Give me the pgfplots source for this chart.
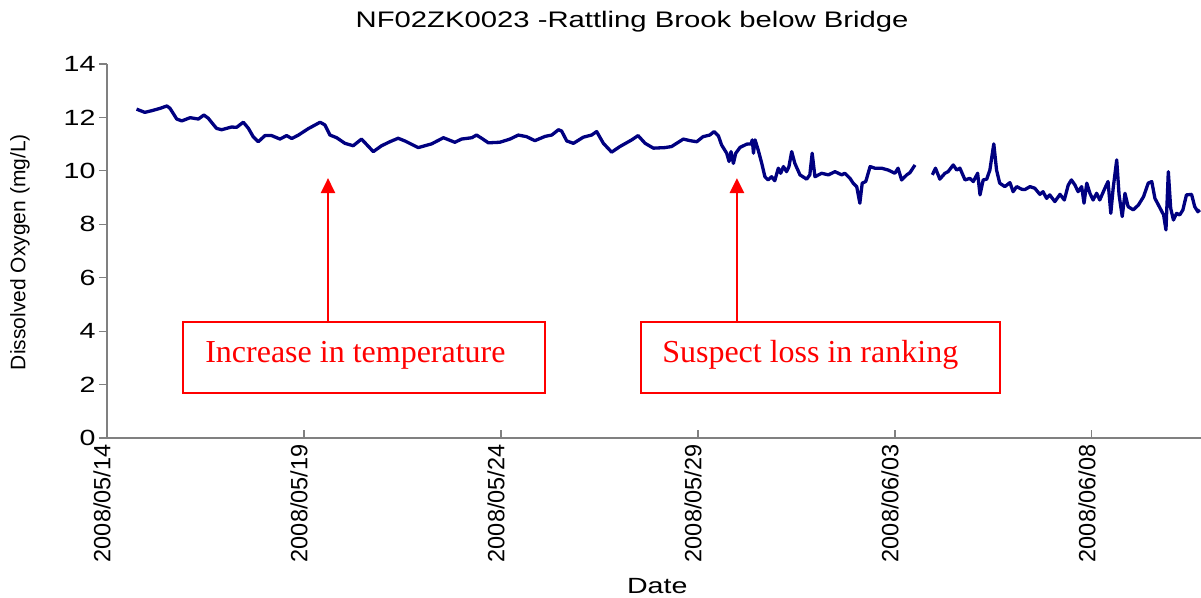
\documentclass[border=0pt]{standalone}
\usepackage{fontspec}
\setmainfont{Liberation Sans}
\newfontfamily\annfont{Liberation Serif}
\usepackage{graphicx}
\usepackage{pgfplots}
\pgfplotsset{compat=1.18}
\usetikzlibrary{arrows.meta}
\definecolor{doline}{RGB}{0,0,128}
\newcommand\hx[1]{\scalebox{1.3}[1]{#1}}
\newcommand\lblfont{\fontsize{22bp}{26bp}\selectfont}

\begin{document}
\begin{tikzpicture}
\path[use as bounding box] (-107bp,-160bp) rectangle (1094bp,438bp);
\begin{axis}[
    scale only axis,
    width=1094bp, height=374bp,
    xmin=0, xmax=27.77,
    ymin=0, ymax=14,
    axis x line=bottom, axis y line=left,
    axis line style={-, gray, line width=1.2bp},
    tick align=inside,
    major tick length=8bp,
    tick style={gray, line width=1.2bp},
    y tick style={xshift=-8bp},
    xtick={0,5,10,15,20,25},
    xticklabels={2008/05/14,2008/05/19,2008/05/24,2008/05/29,2008/06/03,2008/06/08},
    ytick={0,2,4,6,8,10,12,14},
    yticklabels={\hx{0},\hx{2},\hx{4},\hx{6},\hx{8},\hx{10},\hx{12},\hx{14}},
    x tick label style={rotate=90, anchor=east, font=\fontsize{23.5bp}{27bp}\selectfont, xshift=-3bp, yshift=5bp},
    y tick label style={font=\lblfont, xshift=-8bp},
    xlabel={\hx{Date}},
    xlabel style={at={(axis description cs:0.503,-0.3957)}, anchor=center, font=\lblfont},
    ylabel={Dissolved Oxygen (mg/L)},
    ylabel style={at={(axis description cs:-0.0795,0.497)}, anchor=center, font=\fontsize{21bp}{25bp}\selectfont},
    title={\hx{NF02ZK0023 -Rattling Brook below Bridge}},
    title style={at={(axis description cs:0.48,1.098)}, anchor=center, font=\fontsize{22.5bp}{26bp}\selectfont},
    unbounded coords=jump,
    clip=false,
]

% dissolved oxygen record (days after 2008/05/14, mg/L)
\addplot[doline, line width=3.3bp, line join=round] coordinates {
(0.75,12.31) (0.96,12.19) (1.13,12.25) (1.35,12.34) (1.52,12.43) (1.60,12.34)
(1.77,11.94) (1.90,11.87) (2.11,11.99) (2.32,11.94) (2.46,12.09) (2.57,11.97)
(2.78,11.59) (2.91,11.54) (3.16,11.64) (3.29,11.63) (3.46,11.82) (3.59,11.59)
(3.71,11.28) (3.84,11.09) (4.01,11.32) (4.18,11.32) (4.39,11.19) (4.56,11.32)
(4.69,11.21) (4.86,11.34) (5.11,11.58) (5.41,11.82) (5.53,11.72) (5.66,11.34)
(5.83,11.24) (6.04,11.03) (6.25,10.94) (6.46,11.19) (6.76,10.72) (6.97,10.94)
(7.18,11.09) (7.39,11.22) (7.56,11.12) (7.90,10.87) (8.24,11.01) (8.54,11.24)
(8.83,11.07) (9.00,11.19) (9.26,11.24) (9.38,11.34) (9.51,11.22) (9.68,11.05)
(9.97,11.07) (10.23,11.19) (10.44,11.34) (10.65,11.28) (10.86,11.13) (11.12,11.29)
(11.29,11.34) (11.46,11.54) (11.54,11.49) (11.67,11.12) (11.84,11.03) (12.09,11.26)
(12.30,11.34) (12.43,11.47) (12.60,11.03) (12.81,10.70) (13.02,10.91) (13.32,11.16)
(13.48,11.32) (13.66,11.03) (13.87,10.85) (14.16,10.87) (14.33,10.91) (14.63,11.19)
(14.80,11.13) (14.97,11.09) (15.13,11.28) (15.30,11.34) (15.41,11.47) (15.52,11.31)
(15.60,10.97) (15.73,10.66) (15.79,10.35) (15.84,10.72) (15.90,10.28) (15.96,10.66)
(16.07,10.88) (16.24,11.00) (16.35,11.01) (16.38,11.16) (16.41,10.66) (16.45,11.16)
(16.53,10.78) (16.62,10.28) (16.70,9.78) (16.78,9.66) (16.87,9.78) (16.95,9.63)
(17.04,10.10) (17.10,9.91) (17.17,10.16) (17.25,9.97) (17.31,10.16) (17.38,10.72)
(17.46,10.28) (17.59,9.85) (17.76,9.69) (17.84,9.85) (17.90,10.66) (17.97,9.78)
(18.14,9.91) (18.31,9.85) (18.48,9.97) (18.65,9.85) (18.73,9.91) (18.86,9.72)
(18.94,9.54) (19.03,9.41) (19.11,8.79) (19.17,9.54) (19.26,9.60) (19.37,10.16)
(19.49,10.10) (19.66,10.10) (19.83,10.03) (20.00,9.91) (20.08,10.10) (20.17,9.66)
(20.30,9.85) (20.38,9.93) (20.51,10.22)
(20.73,nan)
(20.95,9.85) (21.03,10.10) (21.14,9.69) (21.27,9.91) (21.35,9.97) (21.48,10.22)
(21.57,10.03) (21.65,10.10) (21.78,9.66) (21.90,9.72) (21.99,9.60) (22.10,9.91)
(22.16,9.10) (22.24,9.66) (22.33,9.69) (22.41,10.03) (22.51,11.01) (22.58,10.03)
(22.66,9.54) (22.79,9.41) (22.92,9.56) (23.00,9.22) (23.09,9.41) (23.22,9.31)
(23.30,9.30) (23.43,9.41) (23.55,9.35) (23.68,9.12) (23.76,9.22) (23.85,8.97)
(23.93,9.10) (24.06,8.85) (24.19,9.12) (24.30,8.91) (24.40,9.47) (24.48,9.66)
(24.57,9.47) (24.65,9.22) (24.74,9.41) (24.80,8.79) (24.87,9.54) (24.95,9.16)
(25.03,8.91) (25.12,9.16) (25.20,8.91) (25.33,9.35) (25.41,9.60) (25.48,8.41)
(25.54,9.35) (25.63,10.41) (25.69,9.10) (25.77,8.29) (25.84,9.16) (25.92,8.66)
(26.05,8.54) (26.18,8.72) (26.31,9.03) (26.43,9.54) (26.52,9.60) (26.60,8.97)
(26.69,8.72) (26.82,8.35) (26.88,7.79) (26.94,9.97) (27.00,8.60) (27.07,8.16)
(27.15,8.41) (27.23,8.35) (27.31,8.54) (27.40,9.10) (27.53,9.12) (27.61,8.66)
(27.69,8.47) (27.74,8.54)
};

% annotation boxes and arrows
\draw[red, line width=2bp] (axis cs:1.93,1.68) rectangle (axis cs:11.12,4.34);
\draw[red, line width=2bp] (axis cs:13.55,1.68) rectangle (axis cs:22.66,4.34);
\draw[red, line width=2.5bp, -{Triangle[width=14bp,length=15bp]}]
    (axis cs:5.61,4.34) -- (axis cs:5.61,9.73);
\draw[red, line width=2.5bp, -{Triangle[width=14bp,length=15bp]}]
    (axis cs:15.99,4.34) -- (axis cs:15.99,9.73);
\node[anchor=west, inner sep=0pt, text=red, font=\annfont\fontsize{32bp}{36bp}\selectfont]
    at (axis cs:2.49,3.1) {Increase in temperature};
\node[anchor=west, inner sep=0pt, text=red, font=\annfont\fontsize{32bp}{36bp}\selectfont]
    at (axis cs:14.09,3.1) {Suspect loss in ranking};
\end{axis}
\end{tikzpicture}
\end{document}
